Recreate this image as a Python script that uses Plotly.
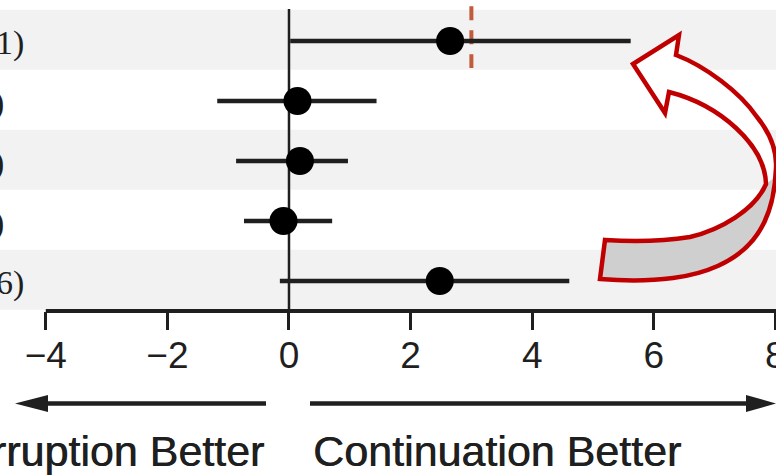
import re
import plotly.graph_objects as go

# ---------------- data ----------------
labels = ["1)", ")", ")", ")", "6)"]
estimate = [2.65, 0.14, 0.18, -0.09, 2.48]
ci_low = [0.02, -1.18, -0.87, -0.74, -0.15]
ci_high = [5.62, 1.44, 0.97, 0.71, 4.61]
reference_value = 3.0          # dashed line in first row
x_ticks = [-4, -2, 0, 2, 4, 6, 8]
left_caption = "Interruption Better"
right_caption = "Continuation Better"

# ---------------- layout constants ----------------
W, H = 776, 475
M_L, M_R, M_T, M_B = 0, 0, 5, 164
PLOT_H = H - M_T - M_B
X_RANGE = [-4.753, 8.010]
Y_RANGE = [-0.5, 4.6]
INK = "#1f1f1f"
BAND = "#f2f2f3"
RED = "#c00000"
RUST = "#c25a3c"

n = len(labels)
ypos = [n - 1 - i for i in range(n)]


def pix_path(d):
    """convert a path written in page pixels to pixel offsets from the plot's top-left"""
    def conv(m):
        x = float(m.group(1)) - M_L
        y = M_T - float(m.group(2))
        return f"{x:.1f},{y:.1f}"
    return re.sub(r"(-?[\d.]+),(-?[\d.]+)", conv, d)


def pix_shape(d, **kw):
    return dict(type="path", xref="paper", yref="paper", xsizemode="pixel",
                ysizemode="pixel", xanchor=0, yanchor=1, path=pix_path(d), **kw)


fig = go.Figure()

fig.add_trace(go.Scatter(
    x=estimate, y=ypos, mode="markers",
    marker=dict(size=28, color="black", line=dict(width=0)),
    error_x=dict(type="data", symmetric=False,
                 array=[h - e for h, e in zip(ci_high, estimate)],
                 arrayminus=[e - l for e, l in zip(estimate, ci_low)],
                 thickness=4.5, width=0, color=INK),
    showlegend=False, hoverinfo="skip",
))

shapes = []
# alternating bands
for i, y in enumerate(ypos):
    if i % 2 == 0:
        shapes.append(dict(type="rect", xref="paper", yref="y", x0=0, x1=1,
                           y0=y - 0.48, y1=y + 0.52, fillcolor=BAND,
                           line=dict(width=0), layer="below"))
# zero line
shapes.append(dict(type="line", xref="x", yref="y", x0=0, x1=0,
                   y0=Y_RANGE[0], y1=ypos[0] + 0.533,
                   line=dict(color=INK, width=2.5), layer="below"))
# dashed reference line in first row
shapes.append(dict(type="line", xref="x", yref="y", x0=reference_value,
                   x1=reference_value, y0=ypos[0] + 0.58, y1=ypos[0] - 0.45,
                   line=dict(color=RUST, width=4, dash="14px,10px"), layer="below"))
# axis line
shapes.append(dict(type="line", xref="x", yref="paper", x0=x_ticks[0],
                   x1=X_RANGE[1], y0=0, y1=0, line=dict(color=INK, width=4)))

# direction arrows under the axis
shapes.append(pix_shape("M47,403.5 L266,403.5", line=dict(color=INK, width=4.5)))
shapes.append(pix_shape("M15,403.5 L48,395 L48,412 Z", fillcolor=INK,
                        line=dict(width=0)))
shapes.append(pix_shape("M310,403.5 L748,403.5", line=dict(color=INK, width=4.5)))
shapes.append(pix_shape("M776,403.5 L746,395 L746,412 Z", fillcolor=INK,
                        line=dict(width=0)))

# curved red block arrow
outline = ("M633,64 L679,35 L676,55 "
           "C705,66 740,92 757,117 C770,133 777,150 776,168 "
           "C775,195 768,222 753,240 C735,262 705,274 673,278 "
           "C650,281 625,281 600,279 L605,240 "
           "C635,242 665,241 690,237 C720,230 755,210 766,184 "
           "C765,145 720,105 669,92 L665,113 Z")
under = ("M605,240 C635,242 665,241 690,237 C720,230 755,210 766,184 "
         "L776,176 C775,200 768,222 753,240 C735,262 705,274 673,278 "
         "C650,281 625,281 600,279 Z")
shapes.append(pix_shape(outline, fillcolor="white", line=dict(width=0)))
shapes.append(pix_shape(under, fillcolor="#cfcfcf", line=dict(width=0)))
shapes.append(pix_shape(outline, fillcolor="rgba(0,0,0,0)",
                        line=dict(color=RED, width=4.5)))

annotations = []
label_right = [26, 6, 6, 6, 26]
for lab, y, r in zip(labels, ypos, label_right):
    annotations.append(dict(text=lab, xref="paper", yref="y", x=0, y=y,
                            xanchor="right", yanchor="middle", xshift=r,
                            yshift=-2, showarrow=False,
                            font=dict(family="Liberation Serif", size=34,
                                      color=INK)))
cap_y = -(451 - (M_T + PLOT_H)) / PLOT_H
cap_font = dict(family="Liberation Sans", size=43, color=INK,
                shadow="0.6px 0px 0px #1f1f1f")
annotations.append(dict(text=left_caption, xref="paper", yref="paper",
                        x=266 / W, y=cap_y, xanchor="right", yanchor="middle",
                        showarrow=False, font=cap_font))
annotations.append(dict(text=right_caption, xref="paper", yref="paper",
                        x=311 / W, y=cap_y, xanchor="left", yanchor="middle",
                        showarrow=False, font=cap_font))

fig.update_layout(
    width=W, height=H,
    margin=dict(l=M_L, r=M_R, t=M_T, b=M_B, pad=0, autoexpand=False),
    paper_bgcolor="white", plot_bgcolor="white",
    shapes=shapes, annotations=annotations,
    xaxis=dict(range=X_RANGE, tickvals=x_ticks, ticks="outside", ticklen=18,
               tickwidth=3, tickcolor=INK, showline=False, showgrid=False,
               zeroline=False, ticklabeloverflow="allow", automargin=False,
               ticklabelstandoff=-6,
               tickfont=dict(family="Liberation Sans", size=37, color=INK)),
    yaxis=dict(range=Y_RANGE, visible=False, showgrid=False, zeroline=False),
)

fig.write_html("out.html")
